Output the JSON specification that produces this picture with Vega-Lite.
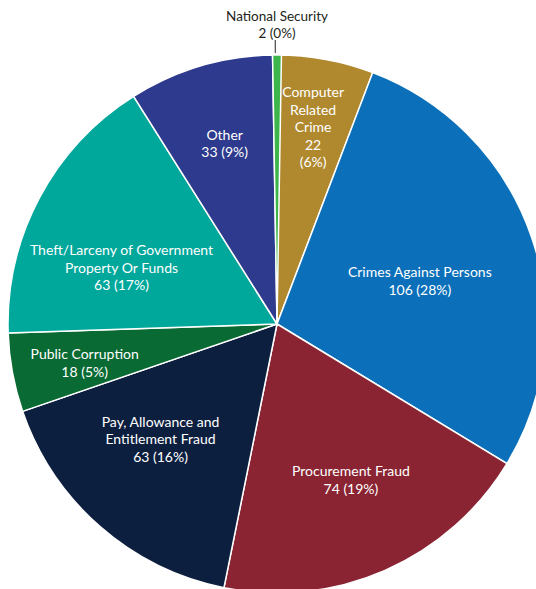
{
  "$schema": "https://vega.github.io/schema/vega-lite/v6.json",
  "width": 554,
  "height": 648,
  "autosize": "none",
  "padding": 0,
  "background": "white",
  "config": {"view": {"stroke": null}, "text": {"font": "Lato", "fontSize": 14, "align": "center", "baseline": "middle", "lineHeight": 17.5, "color": "white"}},
  "data": {
    "values": [
      {"order": 1, "category": "Computer Related Crime", "count": 22, "lines": ["Computer", "Related", "Crime", "22", "(6%)"]},
      {"order": 2, "category": "Crimes Against Persons", "count": 106, "lines": ["Crimes Against Persons", "106 (28%)"]},
      {"order": 3, "category": "Procurement Fraud", "count": 74, "lines": ["Procurement Fraud", "74 (19%)"]},
      {"order": 4, "category": "Pay, Allowance and Entitlement Fraud", "count": 63, "lines": ["Pay, Allowance and", "Entitlement Fraud", "63 (16%)"]},
      {"order": 5, "category": "Public Corruption", "count": 18, "lines": ["Public Corruption", "18 (5%)"]},
      {"order": 6, "category": "Theft/Larceny of Government Property Or Funds", "count": 63, "lines": ["Theft/Larceny of Government", "Property Or Funds", "63 (17%)"]},
      {"order": 7, "category": "Other", "count": 33, "lines": ["Other", "33 (9%)"]},
      {"order": 8, "category": "National Security", "count": 2, "lines": ["National Security", "2 (0%)"]}
    ]
  },
  "transform": [
    {"stack": "count", "groupby": [], "sort": [{"field": "order", "order": "ascending"}], "as": ["t0", "t1"]},
    {"calculate": "(datum.t0 + datum.t1) / 2", "as": "mid"}
  ],
  "layer": [
    {
      "mark": {"type": "arc", "outerRadius": 269, "stroke": "white", "strokeWidth": 1.5},
      "encoding": {
        "theta": {"field": "t0", "type": "quantitative", "scale": {"zero": true, "nice": false}},
        "theta2": {"field": "t1"},
        "color": {
          "field": "category",
          "type": "nominal",
          "legend": null,
          "scale": {
            "domain": ["Computer Related Crime", "Crimes Against Persons", "Procurement Fraud", "Pay, Allowance and Entitlement Fraud", "Public Corruption", "Theft/Larceny of Government Property Or Funds", "Other", "National Security"],
            "range": ["#B0892F", "#0B70B9", "#8A2432", "#0D1F3F", "#0A6A33", "#00A79B", "#2E3A8D", "#3CB54A"]
          }
        }
      }
    },
    {
      "transform": [{"filter": "datum.order == 8"}],
      "mark": {"type": "arc", "radius": 284, "radius2": 271, "thetaOffset": -0.006, "theta2Offset": -0.006, "fill": null, "stroke": "#555555", "strokeWidth": 1},
      "encoding": {"theta": {"field": "mid", "type": "quantitative"}, "theta2": {"field": "mid"}}
    },
    {
      "transform": [{"filter": "datum.order == 1"}],
      "mark": {"type": "text", "radius": 233.5, "thetaOffset": -0.0266},
      "encoding": {"theta": {"field": "mid", "type": "quantitative"}, "text": {"field": "lines"}}
    },
    {
      "transform": [{"filter": "datum.order == 2"}],
      "mark": {"type": "text", "radius": 151.6, "thetaOffset": -0.0111},
      "encoding": {"theta": {"field": "mid", "type": "quantitative"}, "text": {"field": "lines"}}
    },
    {
      "transform": [{"filter": "datum.order == 3"}],
      "mark": {"type": "text", "radius": 165.6, "thetaOffset": -0.0494},
      "encoding": {"theta": {"field": "mid", "type": "quantitative"}, "text": {"field": "lines"}}
    },
    {
      "transform": [{"filter": "datum.order == 4"}],
      "mark": {"type": "text", "radius": 152.8, "thetaOffset": 0.1478},
      "encoding": {"theta": {"field": "mid", "type": "quantitative"}, "text": {"field": "lines"}}
    },
    {
      "transform": [{"filter": "datum.order == 5"}],
      "mark": {"type": "text", "radius": 194.9, "thetaOffset": 0.0201},
      "encoding": {"theta": {"field": "mid", "type": "quantitative"}, "text": {"field": "lines"}}
    },
    {
      "transform": [{"filter": "datum.order == 6"}],
      "mark": {"type": "text", "radius": 171.7, "thetaOffset": -0.0501},
      "encoding": {"theta": {"field": "mid", "type": "quantitative"}, "text": {"field": "lines"}}
    },
    {
      "transform": [{"filter": "datum.order == 7"}],
      "mark": {"type": "text", "radius": 195.3, "thetaOffset": 0.018},
      "encoding": {"theta": {"field": "mid", "type": "quantitative"}, "text": {"field": "lines"}}
    },
    {
      "transform": [{"filter": "datum.order == 8"}],
      "mark": {"type": "text", "radius": 307.3, "color": "#231F20", "fontSize": 13.5, "lineHeight": 17},
      "encoding": {"theta": {"field": "mid", "type": "quantitative"}, "text": {"field": "lines"}}
    }
  ]
}
